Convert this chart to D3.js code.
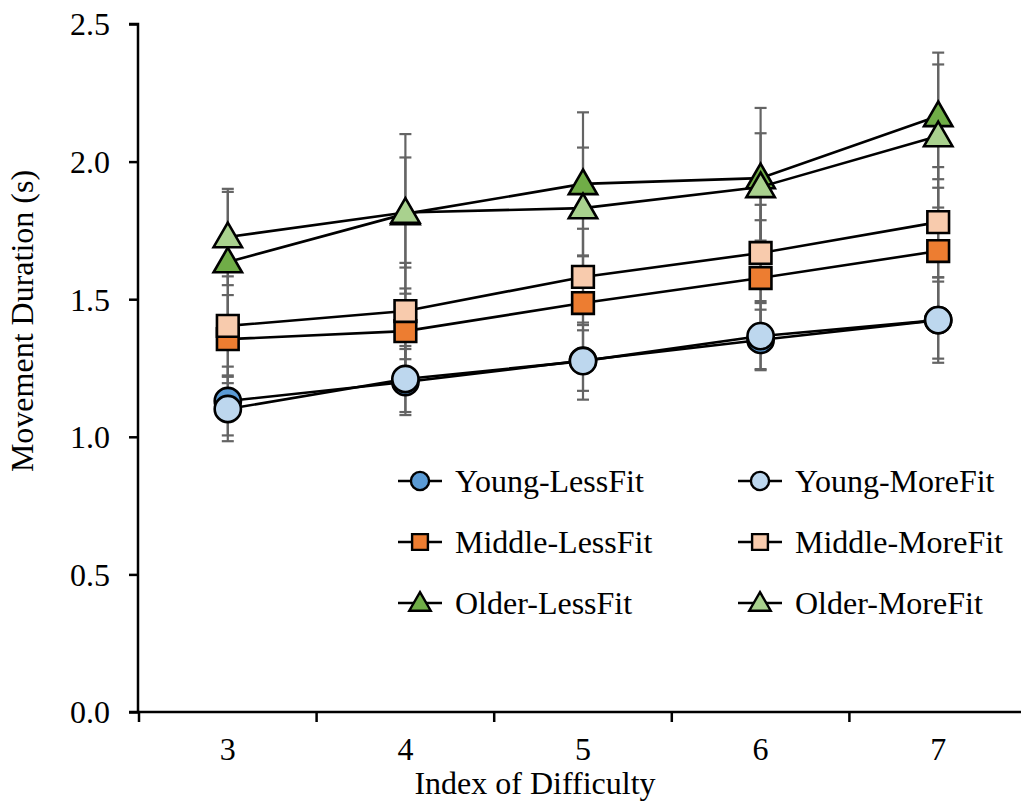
<!DOCTYPE html>
<html>
<head>
<meta charset="utf-8">
<script src="https://cdn.jsdelivr.net/npm/d3@7"></script>
<style>
  html, body { margin: 0; padding: 0; background: #fff; }
  svg { display: block; }
  text { font-family: "Liberation Serif", "Times New Roman", serif; fill: #000; }
</style>
</head>
<body>
<svg id="chart" width="1021" height="804"></svg>
<script>
// ---- data ----
const difficulty = ["3", "4", "5", "6", "7"];
const yTicks = [0, 0.5, 1.0, 1.5, 2.0, 2.5];

const youngLess  = [1.130, 1.199, 1.277, 1.352, 1.424];
const youngMore  = [1.101, 1.210, 1.275, 1.366, 1.424];
const middleLess = [1.355, 1.384, 1.486, 1.577, 1.675];
const middleMore = [1.403, 1.457, 1.581, 1.668, 1.780];
const olderLess  = [1.635, 1.810, 1.919, 1.940, 2.166];
const olderMore  = [1.726, 1.815, 1.831, 1.908, 2.093];

const youngLessErr  = [0.125, 0.120, 0.110, 0.110, 0.140];
const youngMoreErr  = [0.117, 0.120, 0.140, 0.120, 0.155];
const middleLessErr = [0.160, 0.155, 0.170, 0.210, 0.230];
const middleMoreErr = [0.180, 0.175, 0.175, 0.175, 0.200];
const olderLessErr  = [0.255, 0.290, 0.260, 0.255, 0.230];
const olderMoreErr  = [0.175, 0.200, 0.220, 0.195, 0.260];

const seriesNames = ["Young-LessFit", "Young-MoreFit", "Middle-LessFit", "Middle-MoreFit", "Older-LessFit", "Older-MoreFit"];

const series = [
  { name: seriesNames[0], values: youngLess,  err: youngLessErr,  shape: "circle",   fill: "#5B9BD5" },
  { name: seriesNames[1], values: youngMore,  err: youngMoreErr,  shape: "circle",   fill: "#BDD7EE" },
  { name: seriesNames[2], values: middleLess, err: middleLessErr, shape: "square",   fill: "#ED7D31" },
  { name: seriesNames[3], values: middleMore, err: middleMoreErr, shape: "square",   fill: "#F8CBAD" },
  { name: seriesNames[4], values: olderLess,  err: olderLessErr,  shape: "triangle", fill: "#70AD47" },
  { name: seriesNames[5], values: olderMore,  err: olderMoreErr,  shape: "triangle", fill: "#A9D18E" }
];

// ---- layout ----
const svg = d3.select("#chart");
const pLeft = 138, pRight = 1027, pTop = 24, pBottom = 712;
const FONT = 32;

const x = d3.scaleBand().domain(difficulty).range([pLeft + 1, pRight]).padding(0);
const y = d3.scaleLinear().domain([0, 2.5]).range([pBottom, pTop]);
const cx = d => x(d) + x.bandwidth() / 2;

function shapePath(shape, size) {
  if (shape === "circle") return d3.symbol(d3.symbolCircle, size)();
  if (shape === "square") return d3.symbol(d3.symbolSquare, size)();
  return d3.symbol(d3.symbolTriangle, size)();
}
const markerSize = { circle: 540, square: 470, triangle: 350 };
const legendSize = { circle: 260, square: 250, triangle: 200 };

// ---- error bars ----
const eb = svg.append("g").attr("class", "errorbars");
series.forEach(s => {
  difficulty.forEach((d, i) => {
    const v = s.values[i], e = s.err[i];
    const g = eb.append("g").attr("stroke", "#646464").attr("stroke-width", 2.2);
    g.append("line").attr("x1", cx(d)).attr("x2", cx(d)).attr("y1", y(v - e)).attr("y2", y(v + e));
    g.append("line").attr("x1", cx(d) - 6).attr("x2", cx(d) + 6).attr("y1", y(v + e)).attr("y2", y(v + e));
    g.append("line").attr("x1", cx(d) - 6).attr("x2", cx(d) + 6).attr("y1", y(v - e)).attr("y2", y(v - e));
  });
});

// ---- axes ----
const yAxis = d3.axisLeft(y).tickValues(yTicks).tickFormat(d3.format(".1f")).tickSize(9).tickPadding(19);
const gy = svg.append("g").attr("transform", `translate(${pLeft},0)`).call(yAxis);
gy.attr("font-family", null).attr("font-size", null);
gy.select(".domain").attr("stroke", "#000").attr("stroke-width", 2.5).attr("d", `M-9,${pTop}H0V${pBottom}`);
gy.selectAll(".tick line").attr("stroke", "#000").attr("stroke-width", 2.5);
gy.selectAll(".tick text").attr("font-size", FONT).attr("dy", "0.34em");

const xAxis = d3.axisBottom(x).tickSize(0).tickPadding(0);
const gx = svg.append("g").attr("transform", `translate(0,${pBottom})`).call(xAxis);
gx.attr("font-family", null).attr("font-size", null);
gx.select(".domain").attr("stroke", "#000").attr("stroke-width", 2.5).attr("d", `M${pLeft - 9},0H${pRight}`);
gx.selectAll(".tick text").attr("font-size", FONT).attr("y", 48).attr("dy", 0);
// boundary tick marks between categories
const bounds = difficulty.map(d => x(d)).concat([x.range()[1]]);
gx.selectAll(".btick").data(bounds).enter().append("line")
  .attr("x1", d => d).attr("x2", d => d).attr("y1", 0).attr("y2", 10)
  .attr("stroke", "#000").attr("stroke-width", 2.5);

// axis titles
svg.append("text").attr("x", 535).attr("y", 794).attr("text-anchor", "middle")
  .attr("font-size", FONT).text("Index of Difficulty");
svg.append("text").attr("transform", "translate(33,321) rotate(-90)").attr("text-anchor", "middle")
  .attr("font-size", FONT).text("Movement Duration (s)");

// ---- lines and markers ----
const line = d3.line().x((v, i) => cx(difficulty[i])).y(v => y(v));
series.forEach(s => {
  const g = svg.append("g");
  g.append("path").attr("d", line(s.values)).attr("fill", "none").attr("stroke", "#000").attr("stroke-width", 2.6);
  g.selectAll("path.m").data(s.values).enter().append("path").attr("class", "m")
    .attr("d", shapePath(s.shape, markerSize[s.shape]))
    .attr("transform", (v, i) => `translate(${cx(difficulty[i])},${y(v) + (s.shape === "triangle" ? 2 : 0)})`)
    .attr("fill", s.fill).attr("stroke", "#000").attr("stroke-width", 2.6);
});

// ---- legend ----
const legCols = [420, 760];
const legRows = [481, 542, 603];
const leg = svg.append("g");
series.forEach((s, k) => {
  const lx = legCols[k % 2], ly = legRows[Math.floor(k / 2)];
  const g = leg.append("g").attr("transform", `translate(${lx},${ly})`);
  g.append("line").attr("x1", -22).attr("x2", 22).attr("y1", 0).attr("y2", 0).attr("stroke", "#000").attr("stroke-width", 2.6);
  g.append("path").attr("d", shapePath(s.shape, legendSize[s.shape]))
    .attr("transform", `translate(0,${s.shape === "triangle" ? 1.5 : 0})`)
    .attr("fill", s.fill).attr("stroke", "#000").attr("stroke-width", 2.4);
  g.append("text").attr("x", 35).attr("y", 0).attr("dy", "0.33em").attr("font-size", FONT).text(s.name);
});
</script>
</body>
</html>
